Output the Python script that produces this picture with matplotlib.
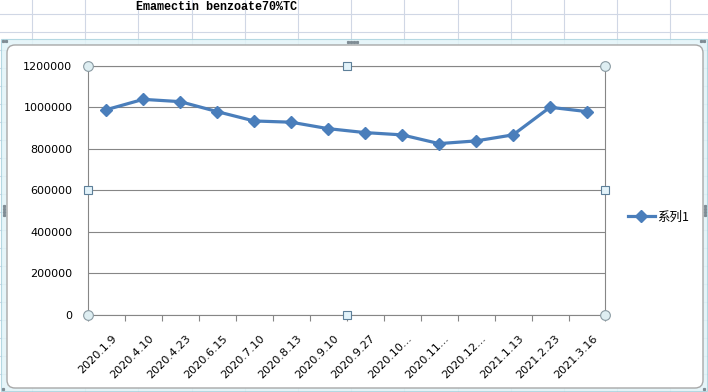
import matplotlib
matplotlib.use("Agg")
from matplotlib import pyplot as plt
from matplotlib.patches import FancyBboxPatch, Rectangle
from matplotlib.transforms import offset_copy

# data
dates = ["2020.1.9", "2020.4.10", "2020.4.23", "2020.6.15", "2020.7.10",
         "2020.8.13", "2020.9.10", "2020.9.27", "2020.10...", "2020.11...",
         "2020.12...", "2021.1.13", "2021.2.23", "2021.3.16"]
prices = [988000, 1038000, 1027000, 979000, 934000, 928000, 897000,
          878000, 867000, 825000, 838000, 867000, 1000000, 979000]
y_ticks = [0, 200000, 400000, 600000, 800000, 1000000, 1200000]
series_name = "系列1"
title = "Emamectin benzoate70%TC"

W, H = 708, 392
fig = plt.figure(figsize=(W / 100, H / 100), dpi=100)

# spreadsheet background drawn in pixel coords
bg = fig.add_axes([0, 0, 1, 1])
bg.set_xlim(0, W)
bg.set_ylim(H, 0)
bg.axis("off")

gridc = "#d0d7e5"
for k in range(14):
    x = 32 + 53.2 * k
    bg.plot([x, x], [0, H], color=gridc, lw=0.8, zorder=1)
for k in range(22):
    y = 13.5 + 18 * k
    bg.plot([0, W], [y, y], color=gridc, lw=0.8, zorder=1)

bg.text(217, 6.5, title, ha="center", va="center", fontsize=8.5,
        family="Liberation Mono", fontweight="bold")

# chart object frame (selected)
bg.add_patch(Rectangle((1, 39), 706, 352, facecolor="#e2f4f8", alpha=0.85,
                       edgecolor="#a9d3de", lw=0.8, zorder=3))
bg.add_patch(FancyBboxPatch((7, 45), 696, 343, boxstyle="round,pad=0,rounding_size=8",
                            facecolor="white", edgecolor="#a8a8a8", lw=1.0, zorder=4))
dots = [(348 + d * 3, 41.5) for d in range(4)]
dots += [(3.5, 206 + d * 3) for d in range(4)] + [(704.5, 206 + d * 3) for d in range(4)]
dots += [(3, 41), (6, 41), (701, 41), (704, 41), (3, 389), (704, 389)]
for px, py in dots:
    bg.plot(px, py, "s", ms=1.3, color="#7f8c94", zorder=5)

# plot area
L, R, T, B = 87.7, 605.5, 65.7, 315
ax = fig.add_axes([L / W, (H - B) / H, (R - L) / W, (B - T) / H])
ax.patch.set_alpha(0)

x = list(range(len(dates)))
line, = ax.plot(x, prices, color="#4a7ebb", lw=2.3, marker="D", ms=6.5,
                markeredgecolor="#4a7ebb")

ax.set_xlim(-0.5, len(dates) - 0.5)
ax.set_ylim(0, 1200000)
ax.set_yticks(y_ticks)
ax.set_yticklabels([str(v) for v in y_ticks], fontsize=8)
ax.yaxis.grid(True, color="#868686", lw=0.8)
ax.set_axisbelow(True)
ax.tick_params(axis="y", length=0, pad=11)

# category labels, rotated, with a small pixel offset
ax.set_xticks(x)
ax.set_xticklabels([])
lab_tr = offset_copy(ax.get_xaxis_transform(), fig=fig, x=5, y=-18, units="dots")
for i, d in enumerate(dates):
    ax.text(i, 0, d, transform=lab_tr, rotation=45, ha="right", va="top",
            rotation_mode="anchor", fontsize=8)
ax.set_xticks([i - 0.5 for i in range(len(dates) + 1)], minor=True)
ax.tick_params(axis="x", which="major", length=0)
ax.tick_params(axis="x", which="minor", length=4, color="#868686", width=0.8)
for s in ax.spines.values():
    s.set_color("#868686")
    s.set_linewidth(0.8)

# selection handles on plot area
hx = [-0.5, len(dates) - 0.5]
for xx in hx:
    for yy in [0, 1200000]:
        ax.plot(xx, yy, "o", ms=7, mfc="#deeef2", mec="#8a9aa2", mew=0.8,
                clip_on=False, zorder=5)
mid = (len(dates) - 1) / 2
for xx, yy in [(mid, 0), (mid, 1200000), (hx[0], 600000), (hx[1], 600000)]:
    ax.plot(xx, yy, "s", ms=5.5, mfc="#e3f3fa", mec="#5d7f99", mew=0.8,
            clip_on=False, zorder=5)

ax.legend([line], [series_name], loc="center left",
          bbox_to_anchor=(617 / W, (H - 217) / H), bbox_transform=fig.transFigure,
          frameon=False, handlelength=2.1, handletextpad=0.2,
          prop={"family": ["Noto Sans CJK SC", "DejaVu Sans"], "size": 9})

fig.savefig("out.png", dpi=100)
